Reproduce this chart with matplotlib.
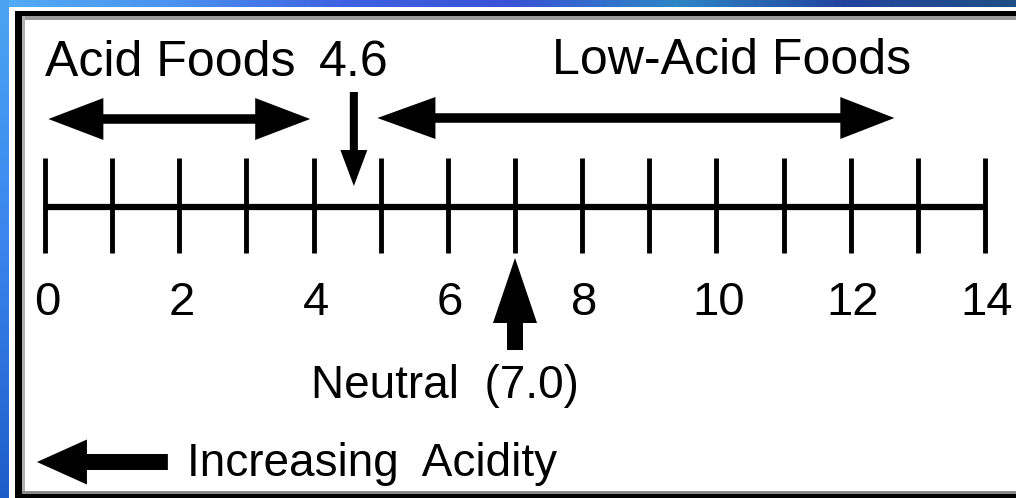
import matplotlib
matplotlib.use('Agg')
import numpy as np
import matplotlib.pyplot as plt
from matplotlib.colors import LinearSegmentedColormap
from matplotlib.patches import Rectangle

# pH scale data
ph_ticks = list(range(0, 15))
ph_labels = [0, 2, 4, 6, 8, 10, 12, 14]
acid_limit = 4.6
neutral = 7.0
acid_span = (0.05, 3.95)
low_acid_span = (4.95, 12.65)
acidity_arrow = (1.83, -0.12)

acid_text = 'Acid Foods'
limit_text = '4.6'
low_acid_text = 'Low-Acid Foods'
neutral_text = 'Neutral  (7.0)'
acidity_text = 'Increasing  Acidity'

plt.rcParams['font.family'] = ['Liberation Sans', 'DejaVu Sans']

W, H = 1016, 498
fig = plt.figure(figsize=(W / 100, H / 100), dpi=100, facecolor='white')

# frame: blue slide edge + black panel border (pixel coords)
bg = fig.add_axes([0, 0, 1, 1])
top_cmap = LinearSegmentedColormap.from_list(
    'top', ['#52acf6', '#4b93f0', '#3f63e2', '#3a52d6', '#2d86c6', '#23449e', '#1f4f86'])
left_cmap = LinearSegmentedColormap.from_list('left', ['#4aa4f2', '#3a84ee', '#1c5cc8'])
bg.imshow(np.linspace(0, 1, 256)[None, :], cmap=top_cmap, extent=(0, W, 7, 0), aspect='auto')
bg.imshow(np.linspace(0, 1, 256)[:, None], cmap=left_cmap, extent=(0, 9, H, 0), aspect='auto')
bg.add_patch(Rectangle((15, 11), W - 15, 5, color='black', lw=0))
bg.add_patch(Rectangle((22, 16), W - 22, 4, color='#9a9a9a', lw=0))
bg.add_patch(Rectangle((15, 11), 7, H - 11, color='black', lw=0))
bg.add_patch(Rectangle((22, 16), 3, H - 16, color='#b0b0b0', lw=0))
bg.add_patch(Rectangle((15, 494), W - 15, 4, color='black', lw=0))
bg.add_patch(Rectangle((22, 491), W - 22, 3, color='#8a8a8a', lw=0))
bg.set_xlim(0, W)
bg.set_ylim(H, 0)
bg.axis('off')

# main axes: x in pH units, y in pixels
ax = fig.add_axes([0, 0, 1, 1], facecolor='none')
px_per_unit = (985 - 45) / 14
xmin = -45 / px_per_unit
ax.set_xlim(xmin, xmin + W / px_per_unit)
ax.set_ylim(H, 0)
ax.axis('off')


def arrow(tail, head, head_len, head_wid, tail_wid):
    style = 'simple,head_length=%.1f,head_width=%.1f,tail_width=%.1f' % (
        head_len * 0.72, head_wid * 0.72, tail_wid * 0.72)
    ax.annotate('', xy=head, xytext=tail,
                arrowprops=dict(arrowstyle=style, mutation_scale=1, color='black',
                                lw=0, shrinkA=0, shrinkB=0))


def double_arrow(span, y, hl_left, hl_right, head_wid, tail_wid):
    # two single-headed arrows whose tails start under the opposite head
    left_base = span[0] + 0.5 * hl_left / px_per_unit
    right_base = span[1] - 0.5 * hl_right / px_per_unit
    arrow((right_base, y), (span[0], y), hl_left, head_wid, tail_wid)
    arrow((left_base, y), (span[1], y), hl_right, head_wid, tail_wid)


# scale line and ticks
ax.plot([ph_ticks[0], ph_ticks[-1]], [207, 207], color='black', lw=4.5, solid_capstyle='butt')
ax.vlines(ph_ticks, 158, 253, color='black', lw=3.5)
for v in ph_labels:
    ax.text(v + 0.03, 315, str(v), ha='center', va='baseline', fontsize=34)

# top labels
ax.text(ph_ticks[0], 76, acid_text, ha='left', va='baseline', fontsize=36)
ax.text(acid_limit, 76, limit_text, ha='center', va='baseline', fontsize=36)
ax.text(10.22, 74, low_acid_text, ha='center', va='baseline', fontsize=36)

# acid / low-acid double arrows
double_arrow(acid_span, 119, 55, 55, 42, 9)
double_arrow(low_acid_span, 118, 58, 54, 42, 9)

# 4.6 marker
arrow((acid_limit, 92), (acid_limit, 186), 36, 27, 8)

# neutral marker
arrow((neutral, 350), (neutral, 258), 65, 44, 16)
ax.text(5.96, 398, neutral_text, ha='center', va='baseline', fontsize=33)

# increasing acidity
arrow((acidity_arrow[0], 462), (acidity_arrow[1], 462), 50, 45, 16)
ax.text(2.11, 476, acidity_text, ha='left', va='baseline', fontsize=33)

fig.savefig('out.png', dpi=100, facecolor='white')
